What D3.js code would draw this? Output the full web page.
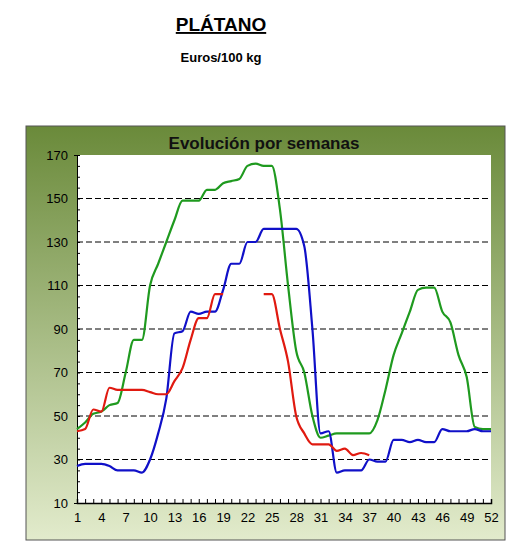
<!DOCTYPE html>
<html>
<head>
<script src="https://cdn.jsdelivr.net/npm/d3@7/dist/d3.min.js"></script>
<style>
  body { margin: 0; background: #fff; font-family: Arial, "Liberation Sans", sans-serif; }
</style>
</head>
<body>
<svg id="chart" width="531" height="558"></svg>
<script>
var weeks = d3.range(1, 53);
var xLabels = [1, 4, 7, 10, 13, 16, 19, 22, 25, 28, 31, 34, 37, 40, 43, 46, 49, 52];
var yTicks = [10, 30, 50, 70, 90, 110, 130, 150, 170];

var green = [44,47,51,52,55,56,70,85,85,110,120,130,140,149,149,149,154,154,157,158,159,165,166,165,165,145,110,80,70,50,40,41,42,42,42,42,42,48,62,78,88,98,108,109,109,98,93,78,68,45,44,44];
var blue = [27,28,28,28,27,25,25,25,24,30,42,58,88,89,98,97,98,98,108,120,120,130,130,136,136,136,136,136,128,90,42,43,24,25,25,25,30,29,29,39,39,38,39,38,38,44,43,43,43,44,43,43];
var red = [43,44,53,52,63,62,62,62,62,61,60,60,66,72,85,95,95,106,106,null,null,null,null,106,106,90,75,50,42,37,37,37,34,35,32,33,32];

var svg = d3.select("#chart");

// page headings
svg.append("text").attr("x", 221).attr("y", 31).attr("text-anchor", "middle")
  .attr("font-size", 19).attr("font-weight", "bold").attr("text-decoration", "underline").text("PLÁTANO");
svg.append("text").attr("x", 221).attr("y", 62).attr("text-anchor", "middle")
  .attr("font-size", 13).attr("font-weight", "bold").text("Euros/100 kg");

// green gradient panel
var grad = svg.append("defs").append("linearGradient").attr("id", "bg")
  .attr("x1", 0).attr("y1", 0).attr("x2", 0).attr("y2", 1);
grad.append("stop").attr("offset", "0%").attr("stop-color", "#6a8a3a");
grad.append("stop").attr("offset", "100%").attr("stop-color", "#e2ebcc");
svg.append("rect").attr("x", 26).attr("y", 126).attr("width", 479).attr("height", 414)
  .attr("fill", "url(#bg)").attr("stroke", "#555").attr("stroke-width", 1);

svg.append("text").attr("x", 264).attr("y", 149).attr("text-anchor", "middle")
  .attr("font-size", 17).attr("font-weight", "bold").attr("fill", "#111").text("Evolución por semanas");

var x = d3.scaleLinear().domain([1, 52]).range([77, 491]);
var y = d3.scaleLinear().domain([10, 170]).range([503, 155]);

svg.append("rect").attr("x", 77).attr("y", 155).attr("width", 414).attr("height", 348).attr("fill", "#fff");

// dashed gridlines
svg.append("g").selectAll("line").data(yTicks.slice(1, -1)).join("line")
  .attr("x1", 77).attr("x2", 491).attr("y1", y).attr("y2", y)
  .attr("stroke", "#000").attr("stroke-dasharray", "6,3").attr("stroke-width", 1);

// y axis
var yAxis = svg.append("g").attr("transform", "translate(77,0)")
  .call(d3.axisLeft(y).tickValues(d3.range(10, 171, 5)).tickSize(3).tickFormat(function (d) { return yTicks.indexOf(d) >= 0 ? d : ""; }));
yAxis.selectAll("text").attr("font-size", 13).attr("fill", "#000").attr("x", -9);
yAxis.selectAll("line").attr("x2", 3);

// x axis
var xAxis = svg.append("g").attr("transform", "translate(0,503)")
  .call(d3.axisBottom(x).tickValues(weeks).tickSize(-4).tickFormat(function (d) { return xLabels.indexOf(d) >= 0 ? d : ""; }));
xAxis.selectAll("text").attr("font-size", 13).attr("fill", "#000").attr("dy", "1.2em");
xAxis.select(".domain").attr("stroke-width", 1.5);

var line = d3.line().defined(function (d) { return d != null; })
  .x(function (d, i) { return x(i + 1); }).y(function (d) { return y(d); })
  .curve(d3.curveMonotoneX);

[[green, "#1f9a1f"], [blue, "#1010c8"], [red, "#e01a10"]].forEach(function (s) {
  svg.append("path").attr("d", line(s[0])).attr("fill", "none")
    .attr("stroke", s[1]).attr("stroke-width", 2.2);
});
</script>
</body>
</html>
